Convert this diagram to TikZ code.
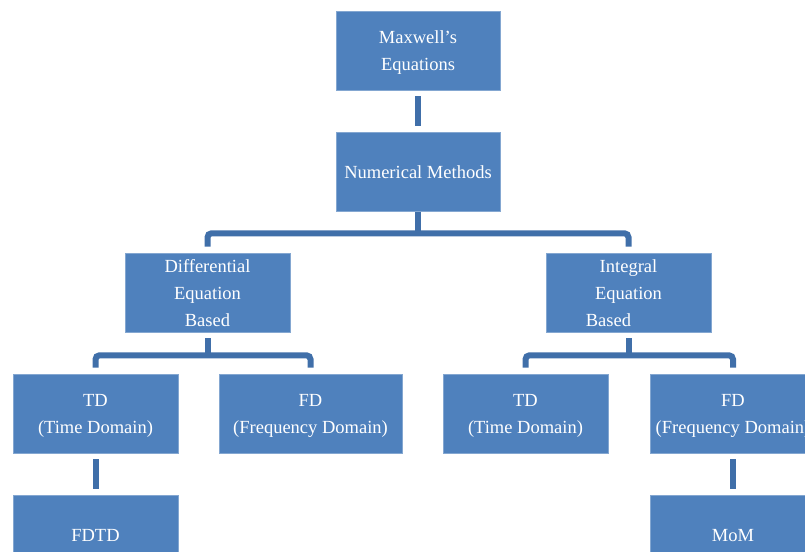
\documentclass[tikz,border=0pt]{standalone}
\usepackage{fontspec}
\setmainfont{Liberation Serif}
\definecolor{boxblue}{HTML}{4F81BD}
\definecolor{lineblue}{HTML}{406FA9}
\begin{document}
\begin{tikzpicture}[x=1pt,y=-1pt,
  box/.style={fill=boxblue, draw=boxblue!70!white, line width=0.6pt, minimum height=79pt, inner sep=0pt},
  txt/.style={text=white, align=center, inner sep=0pt, font=\fontsize{18.5}{27}\selectfont},
  conn/.style={draw=lineblue, line width=6pt, rounded corners=4pt}]
\useasboundingbox (0,0) rectangle (805,551);
\begin{scope}
\clip (0,0) rectangle (805,551);
\node[box, minimum width=164pt] (max) at (418,50.5) {};
\node[box, minimum width=164pt] (num) at (418,171.5) {};
\node[box, minimum width=165pt] (deb) at (207.5,292.5) {};
\node[box, minimum width=165pt] (ieb) at (628.5,292.5) {};
\node[box, minimum width=165pt] (td1) at (95.5,413.5) {};
\node[box, minimum width=183pt] (fd1) at (310.5,413.5) {};
\node[box, minimum width=165pt] (td2) at (525.5,413.5) {};
\node[box, minimum width=166pt] (fd2) at (733,413.5) {};
\node[box, minimum width=165pt] (fdtd) at (95.5,534.5) {};
\node[box, minimum width=166pt] (mom) at (733,534.5) {};
\node[txt] (maxt) at ([yshift=-2pt]max.center) {Maxwell's\\Equations};
\node[txt] (numt) at ([yshift=-1pt]num.center) {Numerical Methods};
\node[txt] (debt) at ([yshift=-1pt]deb.center) {Differential\\Equation\\Based};
\node[txt] (iebt) at ([yshift=-1pt]ieb.center) {Integral\\Equation\\Based\hspace*{40pt}};
\node[txt] (td1t) at ([yshift=-2pt]td1.center) {TD\\(Time Domain)};
\node[txt] (fd1t) at ([yshift=-2pt]fd1.center) {FD\\(Frequency Domain)};
\node[txt] (td2t) at ([yshift=-2pt]td2.center) {TD\\(Time Domain)};
\node[txt] (fd2t) at ([yshift=-2pt]fd2.center) {FD\\(Frequency Domain)};
\node[txt] (fdtdt) at ([yshift=-1pt]fdtd.center) {FDTD};
\node[txt] (momt) at ([yshift=-1pt]mom.center) {MoM};
\end{scope}
% connectors
\draw[conn] ([yshift=-6pt]max.south) -- ([yshift=6pt]num.north);
\coordinate (j1) at ([yshift=-22pt]num.south);
\draw[conn] ([yshift=-1pt]num.south) -- (j1);
\draw[conn] ([yshift=6pt]deb.north) |- (j1) -| ([yshift=6pt]ieb.north);
\coordinate (j2) at ([yshift=-23pt]deb.south);
\draw[conn] ([yshift=-6pt]deb.south) -- (j2);
\draw[conn] ([yshift=6pt]td1.north) |- (j2) -| ([yshift=6pt]fd1.north);
\coordinate (j3) at ([yshift=-23pt]ieb.south);
\draw[conn] ([yshift=-6pt]ieb.south) -- (j3);
\draw[conn] ([yshift=6pt]td2.north) |- (j3) -| ([yshift=6pt]fd2.north);
\draw[conn] ([yshift=-6pt]td1.south) -- ([yshift=6pt]fdtd.north);
\draw[conn] ([yshift=-6pt]fd2.south) -- ([yshift=6pt]mom.north);
\end{tikzpicture}
\end{document}
